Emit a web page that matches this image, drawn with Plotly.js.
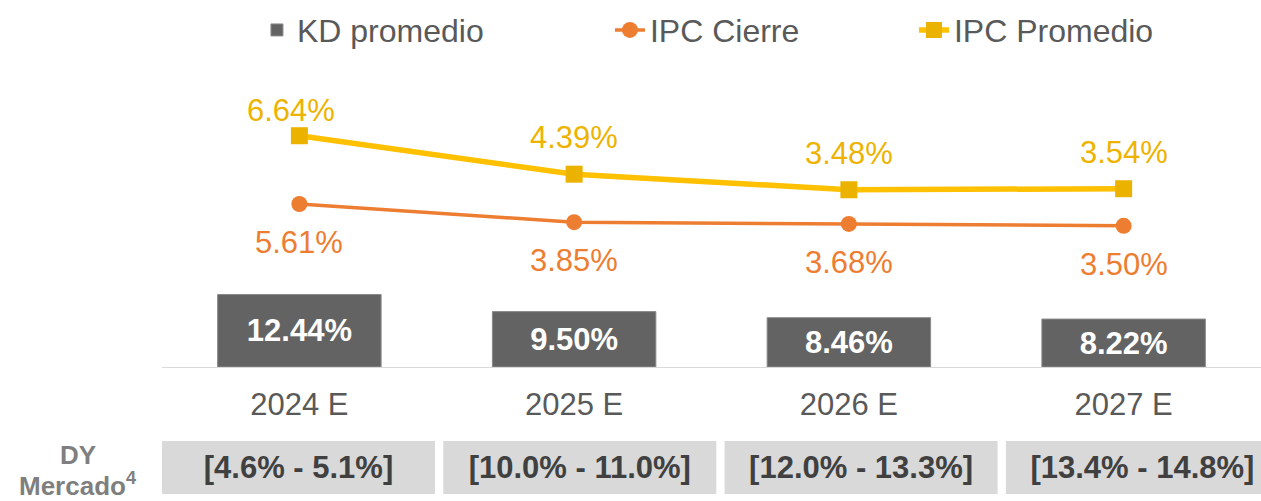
<!DOCTYPE html>
<html>
<head>
<meta charset="utf-8">
<script src="https://cdn.plot.ly/plotly-3.0.1.min.js"></script>
<style>html,body{margin:0;padding:0;background:#fff;}#chart{width:1261px;height:501px;}</style>
</head>
<body>
<div id="chart"></div>
<script>
// ---- data ----
var categories = ['2024 E', '2025 E', '2026 E', '2027 E'];
var kdPromedio = [12.44, 9.50, 8.46, 8.22];
var ipcCierre = [5.61, 3.85, 3.68, 3.50];
var ipcPromedio = [6.64, 4.39, 3.48, 3.54];
var dyMercado = ['[4.6% - 5.1%]', '[10.0% - 11.0%]', '[12.0% - 13.3%]', '[13.4% - 14.8%]'];
var dyLabelTop = 'DY';
var dyLabelBottom = 'Mercado<sup>4</sup>';

var FONT = 'Liberation Sans, Arial, sans-serif';
var C_CIERRE = '#ED7D31';
var C_PROM_LINE = '#FFC000';
var C_PROM_MARK = '#EBB300';

var traces = [
  {
    type: 'bar', name: 'KD promedio', x: categories, y: kdPromedio,
    xaxis: 'x', yaxis: 'y', width: 0.595,
    marker: {color: '#636363', line: {color: '#8a8a8a', width: 1}},
    texttemplate: '%{y:.2f}%', textposition: 'inside', insidetextanchor: 'middle',
    constraintext: 'none',
    textfont: {family: FONT, size: 31, color: '#ffffff', weight: 'bold'},
    legendwidth: 308, hoverinfo: 'skip'
  },
  {
    type: 'scatter', mode: 'lines+markers', name: 'IPC Cierre', x: categories, y: ipcCierre,
    xaxis: 'x', yaxis: 'y3',
    line: {color: C_CIERRE, width: 3.5},
    marker: {symbol: 'circle', size: 16, color: C_CIERRE},
    cliponaxis: false,
    legendwidth: 259, hoverinfo: 'skip'
  },
  {
    type: 'scatter', mode: 'lines+markers', name: 'IPC Promedio', x: categories, y: ipcPromedio,
    xaxis: 'x', yaxis: 'y2',
    line: {color: C_PROM_LINE, width: 5.5},
    marker: {symbol: 'square', size: 17, color: C_PROM_MARK},
    cliponaxis: false,
    hoverinfo: 'skip'
  },
  {
    type: 'bar', name: 'DY Mercado', x: categories, y: dyMercado.map(function(){ return 1; }),
    xaxis: 'x2', yaxis: 'y4', width: 0.9705, showlegend: false,
    marker: {color: '#D9D9D9'},
    text: dyMercado, textposition: 'inside', insidetextanchor: 'middle', constraintext: 'none',
    textfont: {family: FONT, size: 31, color: '#404040', weight: 'bold'},
    hoverinfo: 'skip'
  }
];

// value labels for the lines, positioned through the series' own axes
var annotations = [];
categories.forEach(function(c, i) {
  annotations.push({
    xref: 'x', yref: 'y2', x: c, y: ipcPromedio[i],
    text: ipcPromedio[i].toFixed(2) + '%', showarrow: false,
    xanchor: 'center', yanchor: 'middle',
    yshift: i === 0 ? 25 : 36.5, xshift: i === 0 ? -8 : 0,
    font: {family: FONT, size: 31, color: '#EDB300'}
  });
  annotations.push({
    xref: 'x', yref: 'y3', x: c, y: ipcCierre[i],
    text: ipcCierre[i].toFixed(2) + '%', showarrow: false,
    xanchor: 'center', yanchor: 'middle', yshift: -38.5,
    font: {family: FONT, size: 31, color: C_CIERRE}
  });
});
annotations.push({
  xref: 'paper', yref: 'paper', x: -0.0764, y: 0.0789, xanchor: 'center', yanchor: 'middle',
  text: dyLabelTop, showarrow: false,
  font: {family: FONT, size: 26, color: '#7F7F7F', weight: 'bold'}
});
annotations.push({
  xref: 'paper', yref: 'paper', x: -0.0764, y: 0.0202, xanchor: 'center', yanchor: 'middle',
  text: dyLabelBottom, showarrow: false,
  font: {family: FONT, size: 26, color: '#7F7F7F', weight: 'bold'}
});

var layout = {
  width: 1261, height: 501,
  margin: {l: 162, r: 0, t: 0, b: 7, pad: 0},
  paper_bgcolor: '#ffffff', plot_bgcolor: 'rgba(0,0,0,0)',
  font: {family: FONT, color: '#595959', size: 31},
  showlegend: true,
  legend: {
    orientation: 'h', x: 0.0864, xanchor: 'left', y: 0.939, yanchor: 'middle',
    font: {family: FONT, size: 32, color: '#595959'},
    bgcolor: 'rgba(0,0,0,0)', traceorder: 'normal'
  },
  xaxis: {
    type: 'category', anchor: 'y', domain: [0, 1],
    showline: true, linecolor: '#D9D9D9', linewidth: 1.5,
    ticks: '', showgrid: false, zeroline: false, ticklabelstandoff: 9,
    tickfont: {family: FONT, size: 31, color: '#595959'},
    fixedrange: true
  },
  xaxis2: {
    type: 'category', anchor: 'y4', domain: [0, 1], range: [-0.4852, 3.4216],
    visible: false, fixedrange: true
  },
  yaxis: {domain: [0.2571, 1], range: [0, 62.95], visible: false, fixedrange: true},
  yaxis2: {overlaying: 'y', range: [-6.885, 14.577], visible: false, fixedrange: true},
  yaxis3: {overlaying: 'y', range: [-10.17, 25.36], visible: false, fixedrange: true},
  yaxis4: {domain: [0, 0.1073], range: [0, 1], visible: false, fixedrange: true},
  annotations: annotations
};

Plotly.newPlot('chart', traces, layout, {displayModeBar: false, staticPlot: true});
</script>
</body>
</html>
